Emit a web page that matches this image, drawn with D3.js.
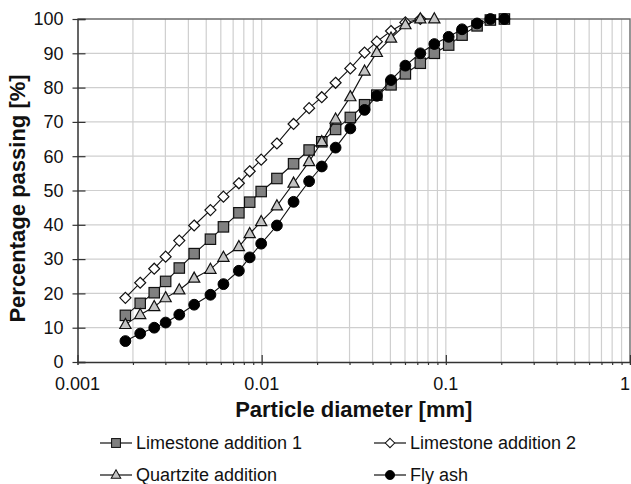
<!DOCTYPE html>
<html>
<head>
    <meta charset="utf-8"/>
    <title>Particle size distribution</title>
    <script src="https://d3js.org/d3.v7.min.js"></script>
    <style>
        body { margin: 0; background: #fff; }
        svg { display: block; font-family: "Liberation Sans", Arial, Helvetica, sans-serif; }
        .grid line { stroke: #cfcfcf; stroke-width: 1.2; }
    </style>
</head>
<body>
<div id="chart"></div>
<script>
    // particle diameter classes [mm]
    var diameters = [0.00182, 0.00219, 0.00261, 0.00301, 0.00357, 0.0043, 0.00527, 0.0062, 0.00752, 0.00861,
        0.00994, 0.0121, 0.0149, 0.0181, 0.0212, 0.0252, 0.0303, 0.0362, 0.0422, 0.0504,
        0.0603, 0.0727, 0.0866, 0.1036, 0.1225, 0.1478, 0.1745, 0.208];

    // percentage passing per series (same index as diameters)
    var limestone1 = [13.6, 17.1, 20.2, 23.5, 27.4, 31.6, 35.8, 39.4, 43.5, 46.6,
        49.7, 53.5, 57.8, 61.8, 64.2, 67.8, 71.3, 75.0, 77.8, 80.8,
        84.0, 87.1, 90.0, 92.4, 95.3, 98.0, 99.7, 100];
    var limestone2 = [18.7, 23.1, 27.2, 30.7, 35.4, 39.8, 44.3, 48.2, 52.1, 55.6,
        59.0, 63.7, 69.4, 74.0, 77.2, 81.4, 85.6, 90.2, 93.4, 96.5,
        99.0, 100];
    var quartzite = [10.9, 13.8, 16.1, 18.7, 21.0, 24.4, 27.0, 30.5, 33.6, 37.4,
        40.9, 45.5, 52.1, 58.4, 64.2, 70.8, 77.3, 84.8, 90.2, 94.4,
        98.3, 100, 100];
    var flyAsh = [6.1, 8.3, 10.0, 11.5, 13.8, 16.7, 19.6, 22.7, 26.6, 30.5,
        34.5, 39.8, 46.7, 52.7, 57.0, 62.5, 68.1, 73.5, 77.6, 82.2,
        86.4, 90.0, 92.7, 94.8, 97.0, 98.7, 100, 100];

    var seriesNames = ["Limestone addition 1", "Limestone addition 2", "Quartzite addition", "Fly ash"];
    var xTickValues = [0.001, 0.01, 0.1, 1];
    var xTickLabels = ["0.001", "0.01", "0.1", "1"];
    var yTickValues = [0, 10, 20, 30, 40, 50, 60, 70, 80, 90, 100];

    var width = 631, height = 484;
    var margin = {top: 19, right: 1, bottom: 122, left: 77.5};
    var innerW = width - margin.left - margin.right,
        innerH = height - margin.top - margin.bottom;

    var x = d3.scaleLog().domain([0.001, 1]).range([0, innerW]);
    var y = d3.scaleLinear().domain([0, 100]).range([innerH, 0]);

    // marker drawing for each series
    var markers = {
        square: function(g) {
            g.append("rect").attr("x", -5.2).attr("y", -5.2).attr("width", 10.4).attr("height", 10.4)
                .attr("fill", "#808080").attr("stroke", "#111").attr("stroke-width", 1.2);
        },
        diamond: function(g) {
            g.append("path").attr("d", "M0,-5.5L5.5,0L0,5.5L-5.5,0Z")
                .attr("fill", "#fff").attr("stroke", "#111").attr("stroke-width", 1.2);
        },
        triangle: function(g) {
            g.append("path").attr("d", "M0,-6.2L5.6,3.9L-5.6,3.9Z")
                .attr("fill", "#c4c4c4").attr("stroke", "#111").attr("stroke-width", 1.2);
        },
        circle: function(g) {
            g.append("circle").attr("r", 5.4).attr("fill", "#000").attr("stroke", "#000");
        }
    };

    var series = [
        {name: seriesNames[0], values: limestone1, marker: "square"},
        {name: seriesNames[1], values: limestone2, marker: "diamond"},
        {name: seriesNames[2], values: quartzite, marker: "triangle"},
        {name: seriesNames[3], values: flyAsh, marker: "circle"}
    ];
    series.forEach(function(s) {
        s.points = s.values.map(function(v, i) { return {d: diameters[i], v: v}; });
    });

    var svg = d3.select("#chart").append("svg")
        .attr("width", width).attr("height", height);
    var g = svg.append("g").attr("transform", "translate(" + margin.left + "," + margin.top + ")");

    // minor x values for grid: 2..9 per decade, plus the decades
    var xGrid = x.ticks(30).filter(function(d) { return d > 0.001 && d < 1; });

    var grid = g.append("g").attr("class", "grid");
    grid.selectAll("line.gx").data(xGrid).enter().append("line")
        .attr("class", "gx")
        .attr("x1", function(d) { return x(d); }).attr("x2", function(d) { return x(d); })
        .attr("y1", 0).attr("y2", innerH);
    grid.selectAll("line.gy").data(yTickValues.slice(1, -1)).enter().append("line")
        .attr("class", "gy")
        .attr("x1", 0).attr("x2", innerW)
        .attr("y1", function(d) { return y(d); }).attr("y2", function(d) { return y(d); });

    // frame: top and right
    g.append("path")
        .attr("d", "M0,0H" + innerW + "V" + innerH)
        .attr("fill", "none").attr("stroke", "#6a6a6a").attr("stroke-width", 1.4);

    // x axis: minor ticks point down, decades point up
    var xAxis = g.append("g").attr("transform", "translate(0," + innerH + ")");
    xAxis.call(d3.axisBottom(x).tickValues(xGrid).tickSize(3).tickFormat(""));
    xAxis.append("g").call(d3.axisTop(x).tickValues(xTickValues).tickSize(7).tickFormat(""))
        .select(".domain").remove();
    xAxis.selectAll(".domain").attr("stroke", "#333").attr("stroke-width", 1.5);
    xAxis.selectAll(".tick line").attr("stroke", "#333").attr("stroke-width", 1.2);
    xAxis.selectAll("text.lbl").data(xTickValues).enter().append("text")
        .attr("class", "lbl")
        .attr("x", function(d) { return x(d); })
        .attr("y", 28)
        .attr("text-anchor", function(d) { return d === 1 ? "end" : "middle"; })
        .attr("font-size", 18)
        .attr("fill", "#111")
        .text(function(d, i) { return xTickLabels[i]; });

    // y axis: ticks cross the axis
    var yAxis = g.append("g");
    yAxis.call(d3.axisRight(y).tickValues(yTickValues).tickSize(8).tickFormat(""));
    yAxis.selectAll(".tick line").attr("x1", -5);
    yAxis.selectAll(".domain").attr("stroke", "#333").attr("stroke-width", 1.5);
    yAxis.selectAll(".tick line").attr("stroke", "#333").attr("stroke-width", 1.2);
    yAxis.selectAll("text.lbl").data(yTickValues).enter().append("text")
        .attr("class", "lbl")
        .attr("x", -14)
        .attr("y", function(d) { return y(d); })
        .attr("dy", "0.35em")
        .attr("text-anchor", "end")
        .attr("font-size", 18)
        .attr("fill", "#111")
        .text(function(d) { return d; });

    // axis titles
    svg.append("text")
        .attr("x", margin.left + innerW / 2)
        .attr("y", 417)
        .attr("text-anchor", "middle")
        .attr("font-size", 22).attr("font-weight", "bold").attr("fill", "#111")
        .text("Particle diameter [mm]");
    svg.append("text")
        .attr("transform", "translate(25," + (margin.top + innerH / 2 + 8) + ") rotate(-90)")
        .attr("text-anchor", "middle")
        .attr("font-size", 22).attr("font-weight", "bold").attr("fill", "#111")
        .text("Percentage passing [%]");

    // series
    var line = d3.line()
        .x(function(p) { return x(p.d); })
        .y(function(p) { return y(p.v); });

    series.forEach(function(s) {
        var sg = g.append("g");
        sg.append("path").datum(s.points)
            .attr("d", line)
            .attr("fill", "none").attr("stroke", "#111").attr("stroke-width", 1.1);
        sg.selectAll("g.mk").data(s.points).enter().append("g")
            .attr("class", "mk")
            .attr("transform", function(p) { return "translate(" + x(p.d) + "," + y(p.v) + ")"; })
            .each(function() { markers[s.marker](d3.select(this)); });
    });

    // legend, two columns
    var legendPos = [[100, 443], [374, 443], [100, 475], [374, 475]];
    series.forEach(function(s, i) {
        var lg = svg.append("g").attr("transform", "translate(" + legendPos[i][0] + "," + legendPos[i][1] + ")");
        lg.append("line").attr("x1", 0).attr("x2", 32).attr("y1", 0).attr("y2", 0)
            .attr("stroke", "#111").attr("stroke-width", 1.2);
        var mk = lg.append("g").attr("transform", "translate(16,0) scale(0.85)");
        markers[s.marker](mk);
        lg.append("text")
            .attr("x", 36).attr("y", 0).attr("dy", "0.36em")
            .attr("font-size", 18).attr("fill", "#111")
            .text(s.name);
    });
</script>
</body>
</html>
